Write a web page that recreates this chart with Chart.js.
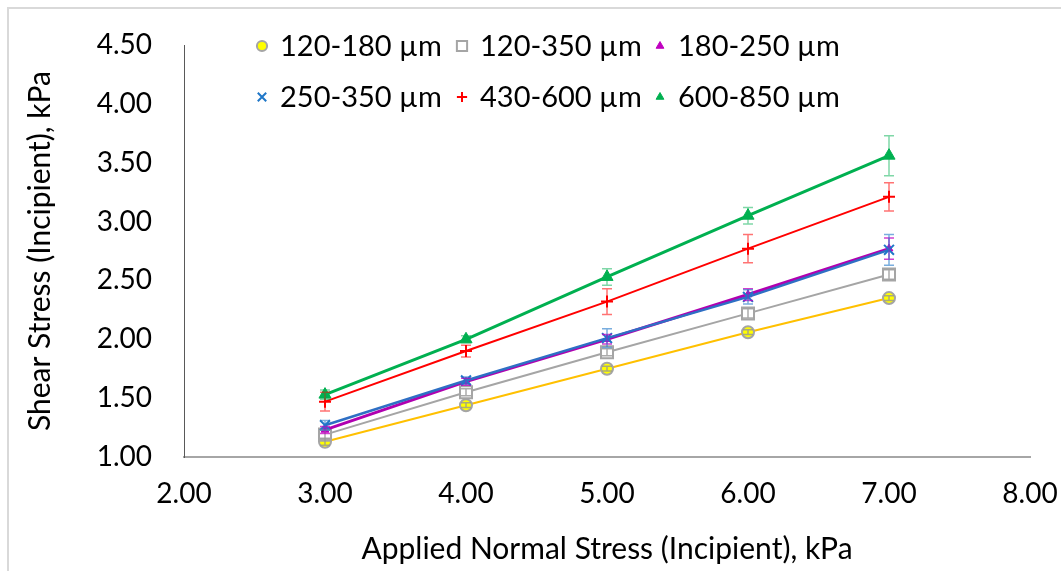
<!DOCTYPE html>
<html>
<head>
<meta charset="utf-8">
<title>Incipient shear stress</title>
<script src="https://cdn.jsdelivr.net/npm/chart.js@4.4.1/dist/chart.umd.min.js"></script>
<style>
    html, body { margin: 0; padding: 0; background: #ffffff; }
    #wrap { width: 1061px; height: 571px; }
</style>
</head>
<body>
<div id="wrap"><canvas id="shear-chart" width="1061" height="571"></canvas></div>
<script>
// applied normal stress (kPa)
const normalStress = [3, 4, 5, 6, 7];

const sizeRanges = ['120-180 µm', '120-350 µm', '180-250 µm', '250-350 µm', '430-600 µm', '600-850 µm'];

// incipient shear stress (kPa) per particle size range
const shear120_180 = [1.13, 1.44, 1.75, 2.06, 2.35];
const shear120_350 = [1.19, 1.55, 1.89, 2.22, 2.55];
const shear180_250 = [1.23, 1.64, 2.00, 2.38, 2.77];
const shear250_350 = [1.27, 1.65, 2.01, 2.36, 2.76];
const shear430_600 = [1.47, 1.90, 2.32, 2.77, 3.21];
const shear600_850 = [1.53, 2.00, 2.53, 3.05, 3.56];

// error bar half-lengths (kPa)
const err120_180 = [0.03, 0.02, 0.02, 0.02, 0.02];
const err120_350 = [0.04, 0.03, 0.03, 0.04, 0.04];
const err180_250 = [0.03, 0.03, 0.04, 0.05, 0.09];
const err250_350 = [0.04, 0.03, 0.08, 0.06, 0.13];
const err430_600 = [0.08, 0.05, 0.11, 0.12, 0.12];
const err600_850 = [0.04, 0.03, 0.07, 0.07, 0.17];

const xTicks = [2, 3, 4, 5, 6, 7, 8];
const yTicks = [1, 1.5, 2, 2.5, 3, 3.5, 4, 4.5];

const FONT = 'Lato, "Open Sans", sans-serif';
Chart.defaults.font.family = FONT;
Chart.defaults.color = '#000000';

// series look: marker + line + error bar colour
const seriesStyle = [
    { pointStyle: 'circle',   radius: 6,   fill: '#FFFF00', stroke: '#A5A5A5', pointBorder: 2,   line: '#FFC000', lineWidth: 2,   errColor: 'rgba(150,150,150,0.8)' },
    { pointStyle: 'rect',     radius: 8.5, fill: '#FFFFFF', stroke: '#A5A5A5', pointBorder: 2,   line: '#A5A5A5', lineWidth: 2,   errColor: 'rgba(150,150,150,0.8)' },
    { pointStyle: 'triangle', radius: 4.5, fill: '#C000C0', stroke: '#C000C0', pointBorder: 1,   line: '#B000B0', lineWidth: 3,   errColor: 'rgba(192,0,192,0.75)' },
    { pointStyle: 'crossRot', radius: 7,   fill: '#1F77C8', stroke: '#1F77C8', pointBorder: 2,   line: '#2E6FC4', lineWidth: 2.5, errColor: 'rgba(31,119,200,0.6)' },
    { pointStyle: 'cross',    radius: 6,   fill: '#FF0000', stroke: '#FF0000', pointBorder: 2,   line: '#FF0000', lineWidth: 2,   errColor: 'rgba(255,0,0,0.55)' },
    { pointStyle: 'triangle', radius: 7,   fill: '#00B050', stroke: '#00B050', pointBorder: 1,   line: '#00B050', lineWidth: 3,   errColor: 'rgba(0,176,80,0.5)' }
];

const seriesValues = [shear120_180, shear120_350, shear180_250, shear250_350, shear430_600, shear600_850];
const seriesErrors = [err120_180, err120_350, err180_250, err250_350, err430_600, err600_850];

const datasets = sizeRanges.map((label, i) => {
    const s = seriesStyle[i];
    return {
        label: label,
        data: normalStress.map((x, j) => ({ x: x, y: seriesValues[i][j] })),
        errors: seriesErrors[i],
        errColor: s.errColor,
        showLine: true,
        borderColor: s.line,
        borderWidth: s.lineWidth,
        pointStyle: s.pointStyle,
        pointRadius: s.radius,
        pointHoverRadius: s.radius,
        pointBackgroundColor: s.fill,
        pointBorderColor: s.stroke,
        pointBorderWidth: s.pointBorder,
        order: sizeRanges.length - i  // later series painted on top
    };
});

// light frame along top and left edge
const framePlugin = {
    id: 'frame',
    beforeDraw(chart) {
        const ctx = chart.ctx;
        ctx.save();
        ctx.strokeStyle = '#D9D9D9';
        ctx.lineWidth = 2;
        ctx.beginPath();
        ctx.moveTo(chart.width, 8);
        ctx.lineTo(8, 8);
        ctx.lineTo(8, chart.height);
        ctx.stroke();
        ctx.restore();
    }
};

// vertical error bars with caps
const errorBarPlugin = {
    id: 'errorBars',
    afterDatasetsDraw(chart) {
        const ctx = chart.ctx;
        const xs = chart.scales.x;
        const ys = chart.scales.y;
        const cap = 5;
        ctx.save();
        ctx.lineWidth = 1.5;
        chart.data.datasets.forEach(ds => {
            ctx.strokeStyle = ds.errColor;
            ds.data.forEach((p, j) => {
                const e = ds.errors[j];
                const px = xs.getPixelForValue(p.x);
                const top = ys.getPixelForValue(p.y + e);
                const bot = ys.getPixelForValue(p.y - e);
                ctx.beginPath();
                ctx.moveTo(px, top);
                ctx.lineTo(px, bot);
                ctx.moveTo(px - cap, top);
                ctx.lineTo(px + cap, top);
                ctx.moveTo(px - cap, bot);
                ctx.lineTo(px + cap, bot);
                ctx.stroke();
            });
        });
        ctx.restore();
    }
};

// two-row legend sitting inside the plot
const legendPlugin = {
    id: 'insideLegend',
    afterDraw(chart) {
        const ctx = chart.ctx;
        const markerX = [262, 462, 660];
        const rowY = [46, 97];
        ctx.save();
        ctx.font = '29px ' + FONT;
        ctx.textBaseline = 'middle';
        ctx.textAlign = 'left';
        chart.data.datasets.forEach((ds, i) => {
            const s = seriesStyle[i];
            const x = markerX[i % 3];
            const y = rowY[Math.floor(i / 3)];
            ctx.fillStyle = s.fill;
            ctx.strokeStyle = s.stroke;
            ctx.lineWidth = s.pointBorder;
            Chart.helpers.drawPoint(ctx, {
                pointStyle: s.pointStyle,
                radius: s.pointStyle === 'triangle' ? 4.5 : s.radius * 0.85,
                rotation: 0,
                borderWidth: s.pointBorder
            }, x, y);
            ctx.fillStyle = '#000000';
            ctx.fillText(ds.label, x + 18, y + 1);
        });
        ctx.restore();
    }
};

const chart = new Chart(document.getElementById('shear-chart'), {
    type: 'scatter',
    data: { datasets: datasets },
    plugins: [framePlugin, errorBarPlugin, legendPlugin],
    options: {
        responsive: false,
        animation: false,
        devicePixelRatio: 1,
        layout: {
            autoPadding: false,
            padding: { left: 0, top: 45, right: 31, bottom: 0 }
        },
        plugins: {
            legend: { display: false },
            tooltip: { enabled: false }
        },
        scales: {
            x: {
                type: 'linear',
                min: xTicks[0],
                max: xTicks[xTicks.length - 1],
                afterBuildTicks: scale => { scale.ticks = xTicks.map(v => ({ value: v })); },
                afterFit: scale => {
                    scale.height = 114;
                    // end labels may hang past the plot edge
                    scale.paddingLeft = 0;
                    scale.paddingRight = 0;
                },
                grid: { display: false, drawTicks: false },
                border: { display: true, color: '#A6A6A6', width: 2 },
                ticks: {
                    padding: 20,
                    font: { size: 28 },
                    color: '#000000',
                    callback: v => Number(v).toFixed(2)
                },
                title: {
                    display: true,
                    text: 'Applied Normal Stress (Incipient), kPa',
                    font: { size: 30 },
                    color: '#000000',
                    padding: { top: 0, bottom: 4 }
                }
            },
            y: {
                type: 'linear',
                min: yTicks[0],
                max: yTicks[yTicks.length - 1],
                afterBuildTicks: scale => { scale.ticks = yTicks.map(v => ({ value: v })); },
                afterFit: scale => {
                    scale.width = 184;
                    scale.paddingTop = 0;
                    scale.paddingBottom = 0;
                },
                grid: { display: false, drawTicks: false },
                border: { display: true, color: '#595959', width: 1 },
                ticks: {
                    padding: 32,
                    font: { size: 28 },
                    color: '#000000',
                    callback: v => Number(v).toFixed(2)
                },
                title: {
                    display: true,
                    text: 'Shear Stress (Incipient), kPa',
                    font: { size: 30 },
                    color: '#000000',
                    padding: { top: 22, bottom: 0 }
                }
            }
        }
    }
});
</script>
</body>
</html>
